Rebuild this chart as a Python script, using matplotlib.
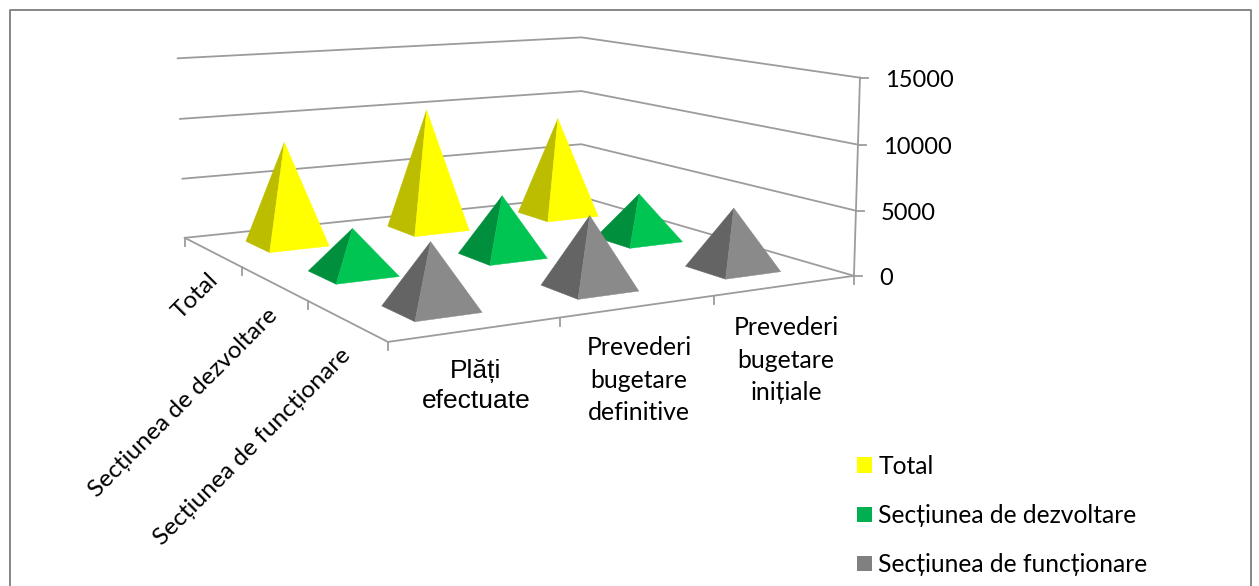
import numpy as np
import matplotlib
matplotlib.use('Agg')
import matplotlib.pyplot as plt
from matplotlib.patches import Patch, Polygon

plt.rcParams['font.family'] = ['Lato', 'DejaVu Sans']

# Datele graficului
categorii = ['Plăți\nefectuate', 'Prevederi\nbugetare\ndefinitive', 'Prevederi\nbugetare\ninițiale']
serii = ['Total', 'Secțiunea de dezvoltare', 'Secțiunea de funcționare']
total = [8400, 10200, 8600]
dezvoltare = [3500, 4850, 3850]
functionare = [4800, 5400, 4750]
valori_axa = [0, 5000, 10000, 15000]

# Culorile fiecărei serii: fața luminată, fața umbrită, legenda
culori_fata = ['#FFFF00', '#00C553', '#8A8A8A']
culori_umbra = ['#BDBD00', '#00903D', '#646464']
culori_legenda = ['#FFFF00', '#00B050', '#808080']
culoare_grila = '#9C9C9C'

# Colțurile cutiei 3D (categorie, serie, valoare) și poziția lor pe pagină
colturi_3d = [
    (0, 3, 0), (0, 3, 5000), (0, 3, 10000), (0, 3, 15000),
    (3, 3, 0), (3, 3, 5000), (3, 3, 10000), (3, 3, 15000),
    (3, 0, 0), (3, 0, 5000), (3, 0, 10000), (3, 0, 15000),
    (0, 0, 0),
]
colturi_px = [
    (185, 237.7), (182, 179), (180, 118.5), (178, 58.5),
    (582, 197), (581, 144), (581, 91), (581.7, 37.5),
    (853.5, 276), (856, 210.3), (858.3, 144.7), (860, 77.7),
    (388, 342),
]


# Matricea de proiecție în perspectivă, calculată din corespondențe
def calc_proiectie(puncte, pixeli):
    rows = []
    rhs = []
    for (x, y, z), (u, v) in zip(puncte, pixeli):
        z = z / 5000.0
        rows.append([x, y, z, 1, 0, 0, 0, 0, -u * x, -u * y, -u * z])
        rows.append([0, 0, 0, 0, x, y, z, 1, -v * x, -v * y, -v * z])
        rhs += [u, v]
    sol = np.linalg.lstsq(np.array(rows, dtype=float), np.array(rhs, dtype=float), rcond=None)[0]
    return np.append(sol, 1).reshape(3, 4)


P = calc_proiectie(colturi_3d, colturi_px)


def proj(x, y, z):
    p = P @ np.array([x, y, z / 5000.0, 1])
    return p[0] / p[2], p[1] / p[2]


fig = plt.figure(figsize=(12.59, 5.86), dpi=100)
ax = fig.add_axes([0, 0, 1, 1])
ax.set_xlim(0, 1259)
ax.set_ylim(586, 0)
ax.axis('off')

# Chenarul exterior
ax.plot([10.5, 10.5, 1251.5, 1251.5], [590, 10, 10, 590], color='#868686', lw=1.4)

# Liniile de grilă de pe pereți și podea
for val in valori_axa:
    pts = [proj(0, 3, val), proj(3, 3, val), proj(3, 0, val)]
    ax.plot(*zip(*pts), color=culoare_grila, lw=1.3, zorder=1)
    xt, yt = pts[2]
    ax.plot([xt, xt + 8], [yt, yt], color=culoare_grila, lw=1.3, zorder=1)
    ax.text(xt + 25, yt + 3, f'{val}', fontsize=17, ha='left', va='center', color='black')

ax.plot(*zip(proj(3, 0, 0), proj(3, 0, 15000)), color=culoare_grila, lw=1.3, zorder=1)
ax.plot(*zip(proj(0, 3, 0), proj(0, 0, 0), proj(3, 0, 0)), color=culoare_grila, lw=1.3, zorder=1)

# Marcaje pe marginile podelei
for i in range(4):
    xt, yt = proj(i, 0, 0)
    ax.plot([xt, xt], [yt, yt + 8], color=culoare_grila, lw=1.3, zorder=1)
for j in range(1, 4):
    xt, yt = proj(0, j, 0)
    ax.plot([xt, xt], [yt, yt + 8], color=culoare_grila, lw=1.3, zorder=1)

# Piramidele, de la rândul din spate spre față
w = 0.2
valori = [total, dezvoltare, functionare]
for s, serie in enumerate(valori):
    y = 2.5 - s
    for c in range(2, -1, -1):
        x = c + 0.5
        varf = proj(x, y, serie[c])
        stanga = proj(x - w, y + w, 0)
        fata = proj(x - w, y - w, 0)
        dreapta = proj(x + w, y - w, 0)
        ax.add_patch(Polygon([stanga, fata, varf], closed=True, fc=culori_umbra[s], ec=culori_umbra[s], lw=0.3, zorder=3 + s))
        ax.add_patch(Polygon([fata, dreapta, varf], closed=True, fc=culori_fata[s], ec=culori_fata[s], lw=0.3, zorder=3 + s))

# Etichetele seriilor, rotite
poz_serii = [(195, 296), (183, 403), (252, 447)]
for txt, (px, py) in zip(serii, poz_serii):
    ax.text(px, py, txt, rotation=45, fontsize=17.6, ha='center', va='center', rotation_mode='anchor', color='black')

# Etichetele categoriilor
ax.text(476, 386, categorii[0], fontsize=19, family='Liberation Sans', ha='center', va='center', linespacing=1.36)
ax.text(639, 380, categorii[1], fontsize=17.8, ha='center', va='center', linespacing=1.48)
ax.text(786, 360, categorii[2], fontsize=17.8, ha='center', va='center', linespacing=1.48)

# Legenda
handles = [Patch(fc=col, ec='none') for col in culori_legenda]
ax.legend(handles, serii, frameon=False, fontsize=17.7, loc='upper left',
          bbox_to_anchor=(857 / 1259, 1 - 455 / 586), borderaxespad=0, borderpad=0,
          handlelength=0.61, handleheight=0.61, handletextpad=0.25, labelspacing=1.06)

fig.savefig('out.png', dpi=100)
